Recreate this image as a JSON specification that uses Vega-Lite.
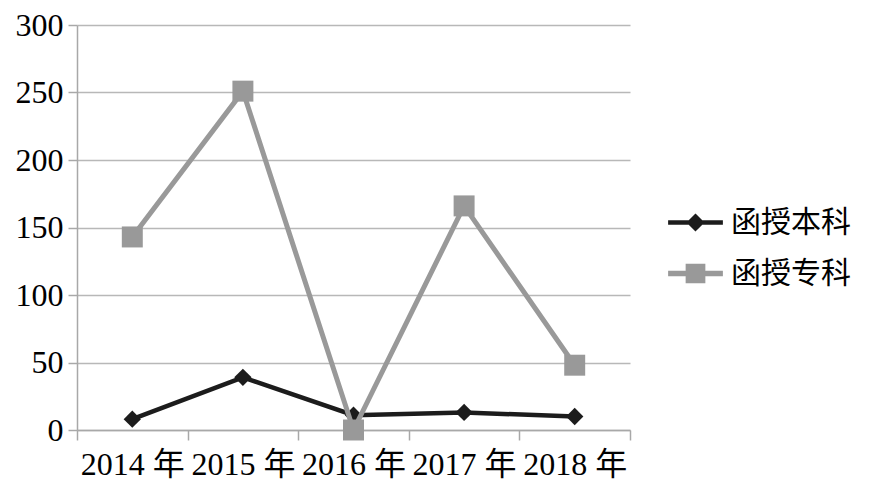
{
  "$schema": "https://vega.github.io/schema/vega-lite/v6.json",
  "width": 553,
  "height": 405,
  "autosize": {"type": "none"},
  "padding": {"left": 77, "top": 25, "right": 245, "bottom": 69},
  "background": "white",
  "config": {
    "view": {"stroke": null},
    "font": "Liberation Serif",
    "axis": {"labelFont": "Liberation Serif, Noto Sans CJK SC", "labelFontSize": 32, "labelColor": "black", "domainColor": "#a8a8a8", "tickColor": "#a8a8a8", "gridColor": "#b8b8b8", "domainWidth": 1.5, "tickWidth": 1.5, "gridWidth": 1.5, "title": null}
  },
  "data": {
    "values": [
      {"year": "2014 年", "series": "函授本科", "value": 8},
      {"year": "2015 年", "series": "函授本科", "value": 39},
      {"year": "2016 年", "series": "函授本科", "value": 11},
      {"year": "2017 年", "series": "函授本科", "value": 13},
      {"year": "2018 年", "series": "函授本科", "value": 10},
      {"year": "2014 年", "series": "函授专科", "value": 143},
      {"year": "2015 年", "series": "函授专科", "value": 251},
      {"year": "2016 年", "series": "函授专科", "value": 0},
      {"year": "2017 年", "series": "函授专科", "value": 166},
      {"year": "2018 年", "series": "函授专科", "value": 48}
    ]
  },
  "encoding": {
    "x": {
      "field": "year", "type": "ordinal",
      "scale": {"type": "band", "paddingInner": 0, "paddingOuter": 0},
      "axis": {"labelAngle": 0, "tickBand": "extent", "tickSize": 10, "labelPadding": 9, "labelOverlap": false, "grid": false}
    },
    "y": {
      "field": "value", "type": "quantitative",
      "scale": {"domain": [0, 300], "nice": false},
      "axis": {"values": [0, 50, 100, 150, 200, 250, 300], "tickSize": 9, "labelPadding": 5, "grid": true}
    },
    "color": {
      "field": "series", "type": "nominal",
      "scale": {"domain": ["函授本科", "函授专科"], "range": ["#1c1c1c", "#999999"]},
      "legend": {
        "title": null, "orient": "none", "legendX": 591, "legendY": 170,
        "labelFont": "Noto Sans CJK SC", "labelFontSize": 30, "labelColor": "black",
        "symbolSize": 3000, "rowPadding": 8, "labelOffset": 8,
        "symbolStrokeWidth": 0,
        "encode": {
          "symbols": {
            "update": {
              "shape": {"signal": "datum.value === '函授本科' ? 'M-1,-0.085H1V0.085H-1Z M0,-0.33L0.33,0L0,0.33L-0.33,0Z' : 'M-1,-0.1H1V0.1H-1Z M-0.36,-0.36H0.36V0.36H-0.36Z'"},
              "fillOpacity": {"value": 1},
              "strokeWidth": {"value": 0}
            }
          }
        }
      }
    }
  },
  "layer": [
    {
      "transform": [{"filter": "datum.series === '函授本科'"}],
      "layer": [
        {"mark": {"type": "line", "strokeWidth": 4.5}},
        {"mark": {"type": "point", "shape": "diamond", "filled": true, "size": 300, "opacity": 1}}
      ]
    },
    {
      "transform": [{"filter": "datum.series === '函授专科'"}],
      "layer": [
        {"mark": {"type": "line", "strokeWidth": 5}},
        {"mark": {"type": "point", "shape": "square", "filled": true, "size": 440, "opacity": 1}}
      ]
    }
  ]
}
